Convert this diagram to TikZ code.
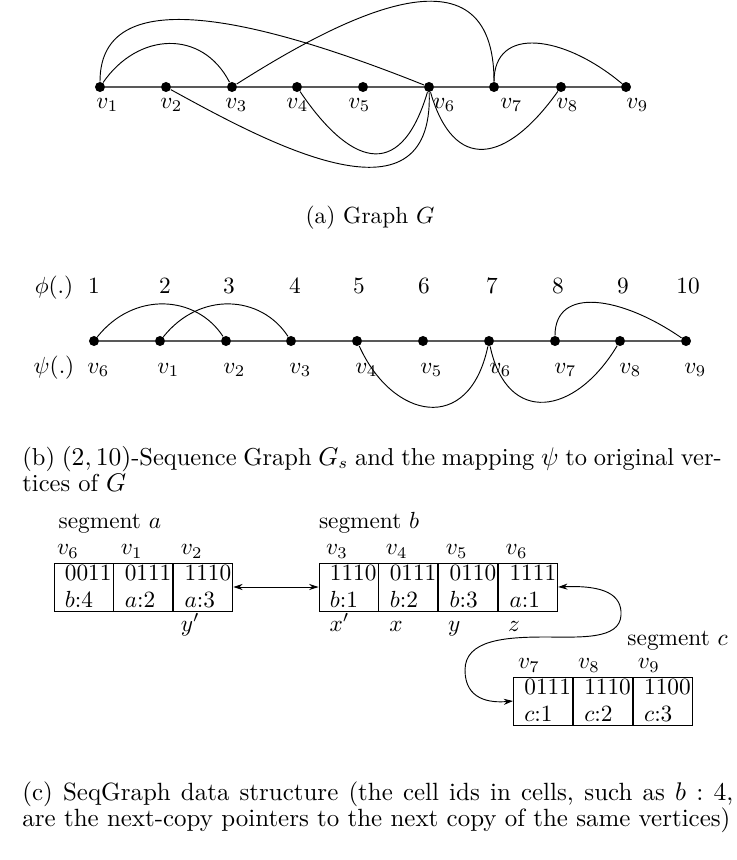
\documentclass[tikz,border=0pt]{standalone}
\usepackage{amsmath,amssymb,amsfonts}
\usepackage{tikz}
\usetikzlibrary{positioning,arrows.meta}

\begin{document}
\begin{tikzpicture}[
x=0.429pt, y=-0.429pt,
node distance=0pt,
vtx/.style={circle, fill, inner sep=0pt, minimum size=4.3pt},
spine/.style={line width=0.8pt, black!65},
lab/.style={anchor=north west, inner sep=0pt},
txt/.style={anchor=base west, inner sep=0pt},
num/.style={anchor=base, inner sep=0pt},
cell/.style={draw, minimum width=25.3pt, minimum height=20.6pt, inner xsep=4.6pt, inner ysep=0pt, text width=16pt, align=left,
  font=\fontsize{10}{11.5}\selectfont, text height=6.5pt, text depth=12.3pt},
capt/.style={anchor=base west, inner sep=0pt, align=justify, font=\fontsize{10.7}{11.2}\selectfont},
arr/.style={{Stealth[length=4pt,width=2.6pt]}-{Stealth[length=4pt,width=2.6pt]}}
]
\useasboundingbox (0,0) rectangle (737,860);

% (a) graph G
\node[vtx] (v1) at (100,87) {};
\node[vtx] (v2) at (166,87) {};
\node[vtx] (v3) at (232,87) {};
\node[vtx] (v4) at (297,87) {};
\node[vtx] (v5) at (363,87) {};
\node[vtx] (v6) at (429,87) {};
\node[vtx] (v7) at (494,87) {};
\node[vtx] (v8) at (561,87) {};
\node[vtx] (v9) at (626,87) {};
\node[lab] (lv1) at (96,98) {$v_1$};
\node[lab] (lv2) at (160,98) {$v_2$};
\node[lab] (lv3) at (225,98) {$v_3$};
\node[lab] (lv4) at (286,98) {$v_4$};
\node[lab] (lv5) at (348,98) {$v_5$};
\node[lab] (lv6) at (433,98) {$v_6$};
\node[lab] (lv7) at (500,98) {$v_7$};
\node[lab] (lv8) at (556,98) {$v_8$};
\node[lab] (lv9) at (626,98) {$v_9$};
\draw[spine] (v1) -- (v2) -- (v3) -- (v4) -- (v5) -- (v6) -- (v7) -- (v8) -- (v9);
\draw (v1) .. controls +(0,-97) and +(-200,-80) .. (v6);
\draw (v1) .. controls +(38,-55) and +(-30,-58) .. (v3);
\draw (v3) .. controls +(107,-68) and +(0,-150) .. (v7);
\draw (v7) .. controls +(0,-62) and +(-62,-52) .. (v9);
\draw (v2) .. controls +(95,52) and +(5,148) .. (v6);
\draw (v4) .. controls +(50,74) and +(-30,100) .. (v6);
\draw (v6) .. controls +(25,86) and +(-55,77) .. (v8);
\node (capa) at (370,218) {(a) Graph $G$};

% (b) sequence graph
\node[num] (phi) at (54,293) {$\phi(.)$};
\node[num] (n1) at (94,293) {1};
\node[num] (n2) at (165,293) {2};
\node[num] (n3) at (229,293) {3};
\node[num] (n4) at (295,293) {4};
\node[num] (n5) at (359,293) {5};
\node[num] (n6) at (424,293) {6};
\node[num] (n7) at (492,293) {7};
\node[num] (n8) at (558,293) {8};
\node[num] (n9) at (623,293) {9};
\node[num] (n10) at (688,293) {10};
\node[vtx] (p1) at (94,341) {};
\node[vtx] (p2) at (160,341) {};
\node[vtx] (p3) at (226,341) {};
\node[vtx] (p4) at (291,341) {};
\node[vtx] (p5) at (357,341) {};
\node[vtx] (p6) at (423,341) {};
\node[vtx] (p7) at (489,341) {};
\node[vtx] (p8) at (555,341) {};
\node[vtx] (p9) at (620,341) {};
\node[vtx] (p10) at (686,341) {};
\node[num] (psi) at (54,373) {$\psi(.)$};
\node[txt] (q1) at (87,373) {$v_6$};
\node[txt] (q2) at (157,373) {$v_1$};
\node[txt] (q3) at (223,373) {$v_2$};
\node[txt] (q4) at (289,373) {$v_3$};
\node[txt] (q5) at (355,373) {$v_4$};
\node[txt] (q6) at (420,373) {$v_5$};
\node[txt] (q7) at (489,373) {$v_6$};
\node[txt] (q8) at (554,373) {$v_7$};
\node[txt] (q9) at (619,373) {$v_8$};
\node[txt] (q10) at (684,373) {$v_9$};
\draw[spine] (p1) -- (p2) -- (p3) -- (p4) -- (p5) -- (p6) -- (p7) -- (p8) -- (p9) -- (p10);
\draw (p1) .. controls +(40,-50) and +(-30,-46) .. (p3);
\draw (p2) .. controls +(40,-50) and +(-30,-46) .. (p4);
\draw (p8) .. controls +(0,-55) and +(-65,-45) .. (p10);
\draw (p5) .. controls +(35,78) and +(-20,95) .. (p7);
\draw (p7) .. controls +(18,85) and +(-45,75) .. (p9);
\node[capt, text width=300pt, font=\fontsize{10.5}{11.2}\selectfont] (capb) at (22,465) {(b) $(2,10)$-Sequence Graph $G_s$ and the mapping $\psi$ to original ver-\linebreak tices of $G$};

% (c) SeqGraph cells
\node[cell] (a1) at (83.5,587) {0011\\$b$:4};
\node[cell, right=of a1] (a2) {0111\\$a$:2};
\node[cell, right=of a2] (a3) {1110\\$a$:3};
\node[cell] (b1) at (348.5,587) {1110\\$b$:1};
\node[cell, right=of b1] (b2) {0111\\$b$:2};
\node[cell, right=of b2] (b3) {0110\\$b$:3};
\node[cell, right=of b3] (b4) {1111\\$a$:1};
\node[cell] (c1) at (543,701) {0111\\$c$:1};
\node[cell, right=of c1] (c2) {1110\\$c$:2};
\node[cell, right=of c2] (c3) {1100\\$c$:3};
\node[txt] (sa) at ([xshift=2pt,yshift=14.5pt]a1.north west) {segment $a$};
\node[txt] (sb) at ([xshift=0pt,yshift=14.5pt]b1.north west) {segment $b$};
\node[txt] (sc) at (627,645) {segment $c$};
\node[txt] (ta1) at ([xshift=1.3pt,yshift=3.4pt]a1.north west) {$v_6$};
\node[txt] (ta2) at ([xshift=3pt,yshift=3.4pt]a2.north west) {$v_1$};
\node[txt] (ta3) at ([xshift=3pt,yshift=3.4pt]a3.north west) {$v_2$};
\node[txt] (tb1) at ([xshift=3pt,yshift=3.4pt]b1.north west) {$v_3$};
\node[txt] (tb2) at ([xshift=3pt,yshift=3.4pt]b2.north west) {$v_4$};
\node[txt] (tb3) at ([xshift=3pt,yshift=3.4pt]b3.north west) {$v_5$};
\node[txt] (tb4) at ([xshift=3pt,yshift=3.4pt]b4.north west) {$v_6$};
\node[txt] (tc1) at ([xshift=2pt,yshift=3.4pt]c1.north west) {$v_7$};
\node[txt] (tc2) at ([xshift=2pt,yshift=3.4pt]c2.north west) {$v_8$};
\node[txt] (tc3) at ([xshift=2pt,yshift=3.4pt]c3.north west) {$v_9$};
\node[txt] (ya3) at ([xshift=3pt,yshift=-8.5pt]a3.south west) {$y'$};
\node[txt] (xb1) at ([xshift=4.5pt,yshift=-8.5pt]b1.south west) {$x'$};
\node[txt] (xb2) at ([xshift=4.5pt,yshift=-8.5pt]b2.south west) {$x$};
\node[txt] (yb3) at ([xshift=4pt,yshift=-8.5pt]b3.south west) {$y$};
\node[txt] (zb4) at ([xshift=4pt,yshift=-8.5pt]b4.south west) {$z$};
\draw[arr] (a3) -- (b1);
\coordinate (k1) at (621,615);
\coordinate (k2) at (545,637);
\coordinate (k3) at (465,670);
\draw[arr] (b4.east) .. controls (605,585) and (622,595) .. (k1) .. controls (620,640) and (580,637) .. (k2) .. controls (505,637) and (465,640) .. (k3) .. controls (465,700) and (490,703) .. (c1.west);
\node[capt, text width=305pt] (capc) at (22,800) {(c) SeqGraph data structure (the cell ids in cells, such as $b:4$,\linebreak are the next-copy pointers to the next copy of the same vertices)};
\end{tikzpicture}
\end{document}
